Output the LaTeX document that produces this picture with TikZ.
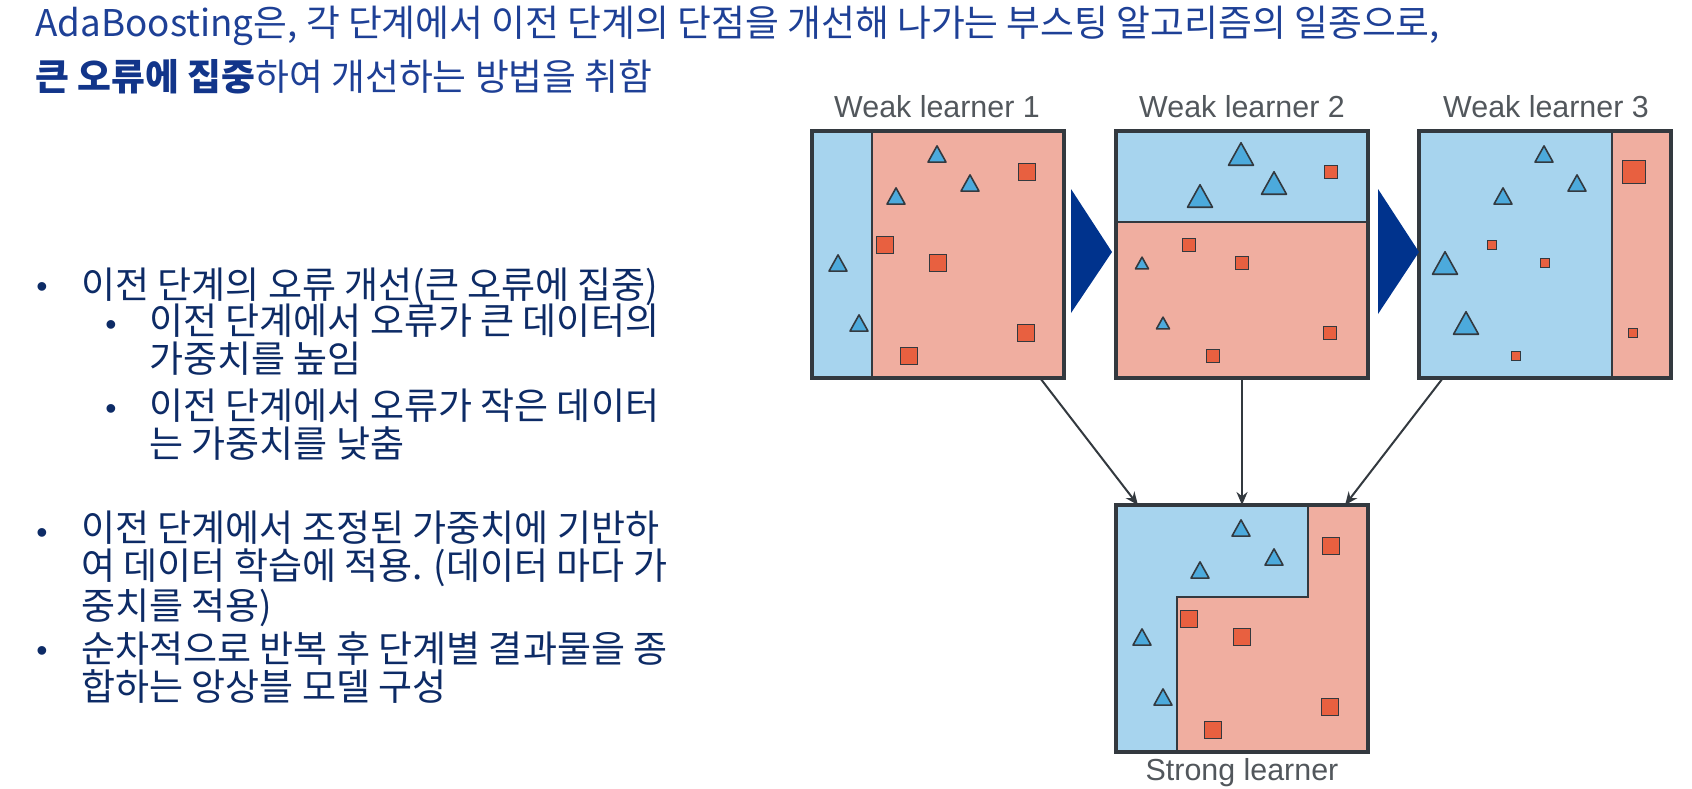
\documentclass[tikz,border=0pt]{standalone}
\usepackage{fontspec}
\setmainfont{Noto Sans CJK KR}
\newfontfamily\figfont{Liberation Sans}
\usetikzlibrary{arrows.meta,calc}
\definecolor{navy}{HTML}{1E4096}
\definecolor{boldnavy}{HTML}{12358A}
\definecolor{deepnavy}{HTML}{0D2B66}
\definecolor{chevron}{HTML}{00338D}
\definecolor{zoneblue}{HTML}{A7D4EE}
\definecolor{zonered}{HTML}{F0AEA0}
\definecolor{triblue}{HTML}{4CAADC}
\definecolor{sqred}{HTML}{E86040}
\definecolor{edge}{HTML}{33393F}
\tikzset{learner/.style={draw=edge,line width=1.6pt,minimum width=126pt,minimum height=123.5pt,inner sep=0pt,outer sep=0pt},
split/.style={draw=edge,line width=1.2pt},
trimark/.style={fill=triblue,draw=edge,line width=0.8pt,line join=round},
sqmark/.style={fill=sqred,draw=edge,line width=0.8pt},
link/.style={-{Stealth[length=6.5pt,width=5.5pt]},line width=1pt,draw=edge},
headline/.style={font=\fontsize{18.4}{27}\selectfont,text=navy,anchor=base west,inner sep=0pt},
item/.style={font=\fontsize{18.5}{18.75}\selectfont,text=deepnavy,anchor=base west,align=left,inner sep=0pt},
dot/.style={font=\figfont\fontsize{16}{18}\selectfont,text=deepnavy,inner sep=0pt},
caption/.style={font=\figfont\fontsize{15.2}{16}\selectfont,text=edge!85,anchor=base,inner sep=0pt}}
\newcommand\markTri[3]{\filldraw[trimark] (#1-#3/2,#2+#3*0.45) -- (#1+#3/2,#2+#3*0.45) -- (#1,#2-#3*0.45) -- cycle;}
\newcommand\markSq[3]{\filldraw[sqmark] (#1-#3/2,#2-#3/2) rectangle (#1+#3/2,#2+#3/2);}
\begin{document}
\begin{tikzpicture}[x=0.5pt,y=-0.5pt]
\useasboundingbox (0,0) rectangle (1692,788);
% text column (multi-line items sit on the baseline of their last line)
\node[headline] (lead1) at (35,36) {AdaBoosting은, 각 단계에서 이전 단계의 단점을 개선해 나가는 부스팅 알고리즘의 일종으로,};
\node[headline] (lead2) at (35,90) {{\bfseries\color{boldnavy}큰 오류에 집중}하여 개선하는 방법을 취함};
\node[item] (b1) at (81,298) {이전 단계의 오류 개선(큰 오류에 집중)};
\node[item] (b1a) at (149,372) {이전 단계에서 오류가 큰 데이터의\\가중치를 높임};
\node[item] (b1b) at (149,457) {이전 단계에서 오류가 작은 데이터\\는 가중치를 낮춤};
\node[item] (b2) at (81,619) {이전 단계에서 조정된 가중치에 기반하\\여 데이터 학습에 적용. (데이터 마다 가\\중치를 적용)};
\node[item] (b3) at (81,700) {순차적으로 반복 후 단계별 결과물을 종\\합하는 앙상블 모델 구성};
\foreach \x/\y/\name in {42/290/d1,111/328/d1a,111/412/d1b,42/536/d2,42/654/d3}
  \node[dot] (\name) at (\x,\y) {•};
% zones
\begin{scope}[shift={(812,131)}]
  \fill[zoneblue] (0,0) rectangle (60,247);
  \fill[zonered] (60,0) rectangle (252,247);
  \draw[split] (60,0) -- (60,247);
\end{scope}
\begin{scope}[shift={(1116,131)}]
  \fill[zoneblue] (0,0) rectangle (252,91);
  \fill[zonered] (0,91) rectangle (252,247);
  \draw[split] (0,91) -- (252,91);
\end{scope}
\begin{scope}[shift={(1419,131)}]
  \fill[zoneblue] (0,0) rectangle (193,247);
  \fill[zonered] (193,0) rectangle (252,247);
  \draw[split] (193,0) -- (193,247);
\end{scope}
\begin{scope}[shift={(1116,505)}]
  \fill[zonered] (0,0) rectangle (252,247);
  \fill[zoneblue] (0,0) -- (192,0) -- (192,92) -- (61,92) -- (61,247) -- (0,247) -- cycle;
  \draw[split] (61,247) -- (61,92) -- (192,92) -- (192,0);
\end{scope}
% learner frames
\node[learner] (wl1) at (938,254.5) {};
\node[learner] (wl2) at (1242,254.5) {};
\node[learner] (wl3) at (1545,254.5) {};
\node[learner] (sl) at (1242,628.5) {};
\node[caption] (t1) at (937,117) {Weak learner 1};
\node[caption] (t2) at (1242,117) {Weak learner 2};
\node[caption] (t3) at (1546,117) {Weak learner 3};
\node[caption] (t4) at (1242,780) {Strong learner};
% data points
\begin{scope}[shift={(812,131)}]
  \foreach \x/\y/\s in {125/23/18,158/52/18,84/65/18,26/132/18,47/192/18} {\markTri{\x}{\y}{\s}}
  \foreach \x/\y/\s in {215/41/17,73/114/17,126/132/17,214/202/17,97/225/17} {\markSq{\x}{\y}{\s}}
\end{scope}
\begin{scope}[shift={(1116,131)}]
  \foreach \x/\y/\s in {125/23/25,158/52/25,84/65/25,26/132/13,47/192/13} {\markTri{\x}{\y}{\s}}
  \foreach \x/\y/\s in {215/41/13,73/114/13,126/132/13,214/202/13,97/225/13} {\markSq{\x}{\y}{\s}}
\end{scope}
\begin{scope}[shift={(1419,131)}]
  \foreach \x/\y/\s in {125/23/18,158/52/18,84/65/18,26/132/25,47/192/25} {\markTri{\x}{\y}{\s}}
  \foreach \x/\y/\s in {215/41/23,73/114/9,126/132/9,214/202/9,97/225/9} {\markSq{\x}{\y}{\s}}
\end{scope}
\begin{scope}[shift={(1116,505)}]
  \foreach \x/\y/\s in {125/23/18,158/52/18,84/65/18,26/132/18,47/192/18} {\markTri{\x}{\y}{\s}}
  \foreach \x/\y/\s in {215/41/17,73/114/17,126/132/17,214/202/17,97/225/17} {\markSq{\x}{\y}{\s}}
\end{scope}
% sequence chevrons
\fill[chevron] (1071,189) -- (1112,252) -- (1071,313) -- cycle;
\fill[chevron] (1378,189) -- (1419,252) -- (1378,314) -- cycle;
% combination
\draw[link] ($(wl1.south west)!0.905!(wl1.south east)$) -- ($(sl.north west)!0.087!(sl.north east)$);
\draw[link] (wl2.south) -- (sl.north);
\draw[link] ($(wl3.south west)!0.095!(wl3.south east)$) -- ($(sl.north west)!0.909!(sl.north east)$);
\end{tikzpicture}
\end{document}
